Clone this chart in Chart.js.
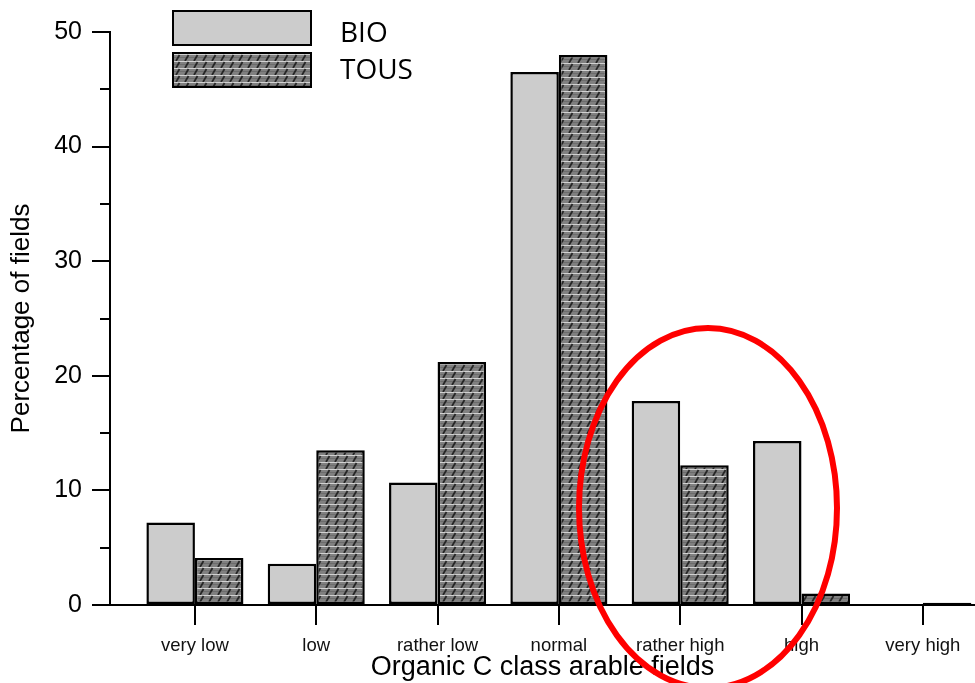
<!DOCTYPE html>
<html>
<head>
<meta charset="utf-8">
<script src="https://cdn.jsdelivr.net/npm/chart.js@4.4.1/dist/chart.umd.min.js"></script>
<style>
  html, body { margin: 0; padding: 0; background: #fff; overflow: hidden; }
  #wrap { position: relative; width: 975px; height: 683px; }
  #leyenda { position: absolute; left: 0; top: 0; font-family: 'Open Sans', sans-serif; font-size: 28px; color: #000; }
  .caja { position: absolute; left: 172px; width: 140px; height: 36px; box-sizing: border-box; border: 2.5px solid #000; }
  .txt { position: absolute; left: 340px; line-height: 36px; }
  #marca { position: absolute; left: 0; top: 0; pointer-events: none; }
</style>
</head>
<body>
<div id="wrap">
  <canvas id="myChart"></canvas>
  <div id="leyenda">
    <div class="caja" id="cajaBio" style="top:10px;background:#cccccc"></div>
    <div class="txt" style="top:13px">BIO</div>
    <div class="caja" id="cajaTous" style="top:52px"></div>
    <div class="txt" style="top:50px">TOUS</div>
  </div>
  <svg id="marca" width="975" height="683">
    <ellipse cx="708" cy="508" rx="129" ry="180" fill="none" stroke="#ff0000" stroke-width="6"/>
  </svg>
</div>
<script>
// datos
const categories = ['very low', 'low', 'rather low', 'normal', 'rather high', 'high', 'very high'];
const bioValues = [7.2, 3.6, 10.7, 46.5, 17.8, 14.3, 0];
const tousValues = [4.1, 13.5, 21.2, 48.0, 12.2, 1.0, 0.2];
const seriesNames = ['BIO', 'TOUS'];

// trama de las barras TOUS
function makeHatch() {
    let c = document.createElement('canvas');
    c.width = 9;
    c.height = 7;
    let g = c.getContext('2d');
    g.fillStyle = '#808080';
    g.fillRect(0, 0, 9, 7);
    g.fillStyle = '#6c6c6c';
    g.fillRect(0, 3, 9, 1);
    g.fillStyle = '#d2d2d2';
    g.fillRect(0, 0, 9, 1);
    g.strokeStyle = '#262626';
    g.lineWidth = 1.8;
    g.beginPath();
    g.moveTo(2, 7);
    g.lineTo(5.5, 1);
    g.stroke();
    return c;
}
const hatchCanvas = makeHatch();
const ctx = document.getElementById('myChart');
const hatch = ctx.getContext('2d').createPattern(hatchCanvas, 'repeat');
document.getElementById('cajaTous').style.backgroundImage = 'url(' + hatchCanvas.toDataURL() + ')';

function toPoints(arr) {
    return arr.map(function (v, i) { return { x: i + 1, y: v }; });
}

const myChart = new Chart(ctx, {
    type: 'bar',
    data: {
        datasets: [{
            label: seriesNames[0],
            data: toPoints(bioValues),
            backgroundColor: '#cccccc',
            borderColor: '#000',
            borderWidth: 2.5,
            borderSkipped: false
        }, {
            label: seriesNames[1],
            data: toPoints(tousValues),
            backgroundColor: hatch,
            borderColor: '#000',
            borderWidth: 2.5,
            borderSkipped: false
        }]
    },
    options: {
        responsive: true,
        maintainAspectRatio: false,
        animation: false,
        layout: { padding: { top: 32, right: 0, bottom: 0, left: 0 } },
        datasets: { bar: { categoryPercentage: 0.8, barPercentage: 1.0 } },
        plugins: {
            legend: { display: false },
            tooltip: { enabled: false }
        },
        scales: {
            x: {
                type: 'linear',
                offset: false,
                min: 0.3,
                max: 7.43,
                afterBuildTicks: function (scale) {
                    scale.ticks = categories.map(function (c, i) { return { value: i + 1 }; });
                },
                afterFit: function (scale) { scale.height = 78; },
                ticks: {
                    color: '#111',
                    padding: 10,
                    maxRotation: 0,
                    autoSkip: false,
                    font: { family: 'Liberation Sans', size: 18.5 },
                    callback: function (v) { return categories[Math.round(v) - 1]; }
                },
                grid: { offset: false, drawOnChartArea: false, color: '#000', lineWidth: 2, tickLength: 20 },
                border: { color: '#000', width: 2 },
                title: {
                    display: true,
                    text: 'Organic C class arable fields',
                    color: '#000',
                    padding: { top: 0, bottom: -1 },
                    font: { family: 'Liberation Sans', size: 27 }
                }
            },
            y: {
                min: 0,
                max: 50,
                afterFit: function (scale) { scale.width = 110; },
                ticks: {
                    stepSize: 5,
                    color: '#000',
                    padding: 10,
                    font: { family: 'Liberation Sans', size: 25 },
                    callback: function (v) { return v % 10 === 0 ? v : ''; }
                },
                grid: {
                    drawOnChartArea: false,
                    color: '#000',
                    lineWidth: 2,
                    tickLength: 18,
                    // ticks menores mas cortos
                    tickBorderDash: function (c) {
                        return (c.tick && c.tick.value % 10 !== 0) ? [0, 8, 10, 0] : [];
                    }
                },
                border: { color: '#000', width: 2 },
                title: {
                    display: true,
                    text: 'Percentage of fields',
                    color: '#000',
                    padding: { top: 6, bottom: 0 },
                    font: { family: 'Liberation Sans', size: 26 }
                }
            }
        }
    }
}); //fin del chart
</script>
</body>
</html>
